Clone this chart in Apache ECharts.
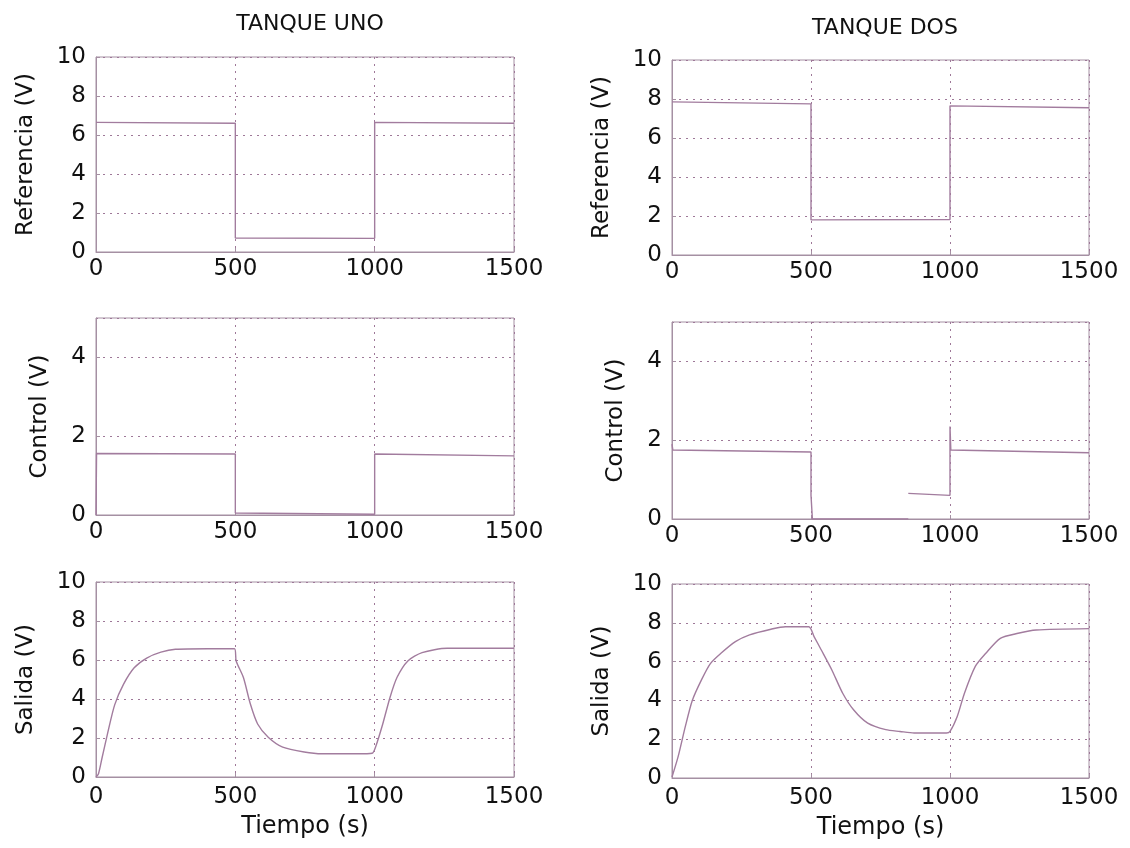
<!DOCTYPE html>
<html><head><meta charset="utf-8">
<script src="https://cdn.jsdelivr.net/npm/echarts@6/dist/echarts.min.js"></script>
<style>html,body{margin:0;padding:0;background:#fff}#c{width:1130px;height:848px}</style>
</head><body><div id="c"></div>
<script>
// ---- data ----
const panelTitles = ['TANQUE UNO', 'TANQUE DOS'];
const yNames = ['Referencia (V)', 'Control (V)', 'Salida (V)'];
const xName = 'Tiempo (s)';

// Tanque uno: referencia
const ref1T = [0, 500, 500, 1000, 1000, 1500];
const ref1V = [6.65, 6.6, 0.72, 0.7, 6.65, 6.6];
// Tanque dos: referencia
const ref2T = [0, 500, 500, 1000, 1000, 1500];
const ref2V = [7.85, 7.75, 1.8, 1.82, 7.65, 7.55];

// Tanque uno: control
const ctl1T = [0, 2, 500, 500, 505, 1000, 1000, 1500];
const ctl1V = [0, 1.56, 1.55, 0.05, 0.02, 0.02, 1.55, 1.5];
// Tanque dos: control (null = break in trace)
const ctl2T = [0, 3, 10, 500, 500, 505, 850, 850, 850, 1000, 1000, 1003, 1010, 1500];
const ctl2V = [1.9, 1.75, 1.72, 1.7, 0.6, 0, 0, null, 0.65, 0.6, 2.35, 1.75, 1.73, 1.68];

// Tanque uno: salida
const out1T = [0, 9, 22, 41, 67, 99, 137, 182, 233, 285, 400, 497, 503, 529, 554, 580, 618, 670, 747, 811, 939, 991, 1003, 1029, 1055, 1080, 1119, 1170, 1260, 1500];
const out1V = [0, 0.17, 1.0, 2.2, 3.7, 4.76, 5.6, 6.1, 6.4, 6.55, 6.58, 6.58, 5.95, 5.1, 3.74, 2.72, 2.04, 1.53, 1.28, 1.19, 1.19, 1.22, 1.53, 2.72, 4.08, 5.1, 5.95, 6.38, 6.6, 6.6];
// Tanque dos: salida
const out2T = [0, 22, 48, 73, 106, 138, 176, 228, 279, 356, 408, 492, 511, 537, 575, 614, 653, 704, 769, 820, 871, 987, 1000, 1026, 1052, 1091, 1129, 1181, 1245, 1310, 1500];
const out2V = [0.05, 1.1, 2.66, 4.0, 5.06, 5.9, 6.43, 7.03, 7.38, 7.67, 7.8, 7.8, 7.29, 6.6, 5.57, 4.37, 3.52, 2.83, 2.49, 2.4, 2.32, 2.32, 2.4, 3.17, 4.37, 5.75, 6.43, 7.2, 7.46, 7.63, 7.7];

const yMax = [10, 5, 10];

// ---- layout ----
const grids = [
  {left: 96, top: 57, width: 418, height: 195},
  {left: 672, top: 60, width: 417, height: 195},
  {left: 96, top: 318, width: 418, height: 197},
  {left: 672, top: 322, width: 417, height: 197},
  {left: 96, top: 582, width: 418, height: 195},
  {left: 672, top: 584, width: 417, height: 194}
];
const nameGaps = [58, 44, 58];
const seriesT = [ref1T, ref2T, ctl1T, ctl2T, out1T, out2T];
const seriesV = [ref1V, ref2V, ctl1V, ctl2V, out1V, out2V];

const LINE = '#a27c9e';
const BORDER = '#a590a3';
const GRIDC = '#9e7898';
const FONT = 'DejaVu Sans';

const option = {
  backgroundColor: '#fff',
  animation: false,
  title: panelTitles.map((t, i) => ({
    text: t,
    left: i === 0 ? 305 : 880,
    top: i === 0 ? 8 : 12,
    textAlign: 'center',
    textStyle: {fontFamily: FONT, fontSize: 22, fontWeight: 'normal', color: '#111'}
  })),
  grid: grids.map(g => Object.assign({show: true, borderColor: BORDER, borderWidth: 1, backgroundColor: 'transparent'}, g)),
  xAxis: grids.map((g, i) => ({
    type: 'value', gridIndex: i, min: 0, max: 1500, interval: 500,
    name: i >= 4 ? xName : '', nameLocation: 'middle', nameGap: 38,
    nameTextStyle: {fontFamily: FONT, fontSize: 24, color: '#111'},
    axisLine: {show: true, lineStyle: {color: BORDER}},
    axisTick: {show: true, inside: true, length: 4, lineStyle: {color: BORDER}},
    axisLabel: {fontFamily: FONT, fontSize: 23, color: '#111', margin: i >= 4 ? 9 : 6, formatter: v => String(v)},
    splitLine: {show: true, lineStyle: {color: GRIDC, type: [2, 5], width: 1}}
  })),
  yAxis: grids.map((g, i) => {
    const r = Math.floor(i / 2);
    return {
      type: 'value', gridIndex: i, min: 0, max: yMax[r], interval: 2,
      name: yNames[r], nameLocation: 'middle', nameGap: nameGaps[r], nameRotate: 90,
      nameTextStyle: {fontFamily: FONT, fontSize: 23, color: '#111'},
      axisLine: {show: true, lineStyle: {color: BORDER}},
      axisTick: {show: true, inside: true, length: 4, lineStyle: {color: BORDER}},
      axisLabel: {fontFamily: FONT, fontSize: 23, color: '#111', margin: 10, showMaxLabel: yMax[r] % 2 === 0, formatter: v => String(v)},
      splitLine: {show: true, lineStyle: {color: GRIDC, type: [2, 5], width: 1}}
    };
  }),
  series: seriesT.map((ts, i) => ({
    type: 'line', xAxisIndex: i, yAxisIndex: i, showSymbol: false, symbol: 'none',
    connectNulls: false,
    smooth: i >= 4 ? 0.25 : false,
    lineStyle: {color: LINE, width: 1.4},
    data: ts.map((t, k) => [t, seriesV[i][k] === null ? '-' : seriesV[i][k]])
  }))
};

const chart = echarts.init(document.getElementById('c'), null, {renderer: 'canvas'});
chart.setOption(option);
</script>
</body></html>
